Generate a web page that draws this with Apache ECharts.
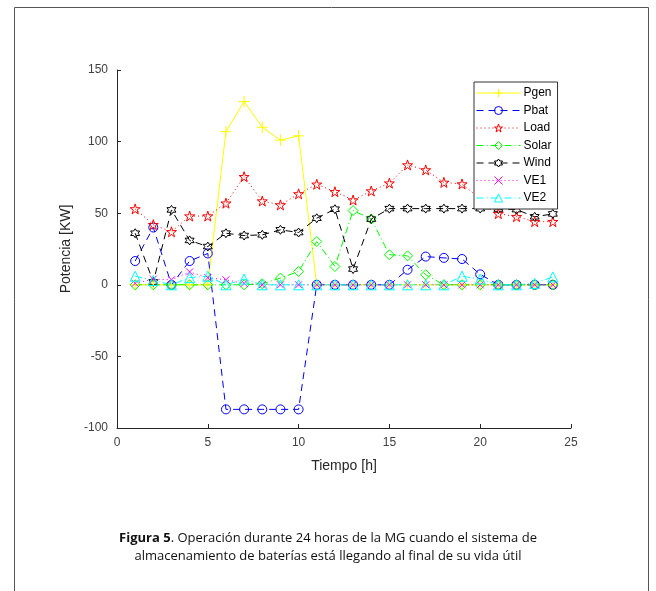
<!DOCTYPE html>
<html>
<head>
<meta charset="utf-8">
<script src="https://cdn.jsdelivr.net/npm/echarts@6/dist/echarts.min.js"></script>
<style>
  html, body { margin: 0; padding: 0; background: #fff; }
  #chart { width: 656px; height: 591px; }
</style>
</head>
<body>
<div id="chart"></div>
<script>
// datos (hora 1..24)
const hours = [1, 2, 3, 4, 5, 6, 7, 8, 9, 10, 11, 12, 13, 14, 15, 16, 17, 18, 19, 20, 21, 22, 23, 24];
const pgen  = [0, 0, 0, 0, 0, 107, 128, 110, 101, 104, 0, 0, 0, 0, 0, 0, 0, 0, 0, 0, 0, 0, 0, 0];
const pbat  = [16.6, 40, 0, 16.6, 21.9, -87, -87, -87, -87, -87, 0, 0, 0, 0, 0, 10.5, 19.7, 18.8, 18, 7.3, 0, 0, 0, 0];
const load  = [53, 42, 37, 48, 48, 57, 75.5, 58.5, 55.8, 63.5, 70.2, 65, 59.2, 65.5, 71, 83.7, 80.2, 71.5, 70.4, 60, 49.7, 47.6, 44.1, 44.1];
const solar = [0, 0, 0, 0, 0, 0, 0, 0.7, 4.7, 9.3, 30.2, 12.8, 51.8, 46, 21, 20.2, 7, 0, 0, 0, 0, 0, 0, 0];
const wind  = [36, 2, 52.3, 31, 26.7, 36, 34.4, 34.9, 38.4, 36.5, 46.5, 52.8, 11, 45.9, 53.2, 53.2, 53.2, 53.2, 53.2, 53.2, 52.9, 52.5, 47.5, 49.5];
const ve1   = [1, 4, 3.5, 9, 5, 3.5, 1, 0, 0, 0, 0, 0, 0, 0, 0, 0, 0, 0, 0, 0, 0, 0, 0, 0];
const ve2   = [6, 3, 0, 5, 6, 0, 4, 0, 0, 0, 0, 0, 0, 0, 0, 0, 0, 0, 6, 4, 0, 0, 1, 5.5];
const xTicks = { min: 0, max: 25, step: 5 };
const yTicks = { min: -100, max: 150, step: 50 };

// marcadores estilo matlab
function starPath(n, ratio) {
  let d = '';
  for (let i = 0; i < n * 2; i++) {
    const r = i % 2 === 0 ? 10 : 10 * ratio;
    const a = -Math.PI / 2 + i * Math.PI / n;
    d += (i === 0 ? 'M' : 'L') + (10 + r * Math.cos(a)).toFixed(2) + ',' + (10 + r * Math.sin(a)).toFixed(2);
  }
  return 'path://' + d + 'Z';
}
const plusSym = 'path://M10,0L10,20M0,10L20,10';
const crossSym = 'path://M0,0L20,20M20,0L0,20';

function pairs(ys) {
  return hours.map((h, i) => [h, ys[i]]);
}

const seriesDef = [
  // nombre, valores, color, trazo, marcador, tamaño
  ['Pgen', pgen, '#ffff00', 'solid', plusSym, 11],
  ['Pbat', pbat, '#0000ff', [7, 5], 'circle', 9],
  ['Load', load, '#ff0000', [1, 3], starPath(5, 0.382), 10],
  ['Solar', solar, '#00ff00', [7, 3, 1, 3], 'diamond', 10],
  ['Wind', wind, '#000000', [7, 5], starPath(6, 0.577), 9],
  ['VE1', ve1, '#ff00ff', [1, 3], crossSym, 7],
  ['VE2', ve2, '#00ffff', [7, 3, 1, 3], 'triangle', 10]
];

const hollow = 'rgba(255,255,255,0)';
const series = seriesDef.map(s => ({
  name: s[0],
  type: 'line',
  data: pairs(s[1]),
  symbol: s[4],
  symbolSize: s[5],
  showSymbol: true,
  color: s[2],
  lineStyle: { color: s[2], width: 1, type: s[3] },
  itemStyle: { color: hollow, borderColor: s[2], borderWidth: 1 },
  emphasis: { disabled: true }
}));

const legendData = seriesDef.map(s => ({
  name: s[0],
  itemStyle: { color: hollow, borderColor: s[2], borderWidth: 1 },
  lineStyle: { color: s[2], width: 1, type: s[3] }
}));

const chart = echarts.init(document.getElementById('chart'), null, { renderer: 'canvas' });

const axisCol = '#262626';
const font = 'Liberation Sans';
const option = {
  animation: false,
  backgroundColor: '#fff',
  textStyle: { fontFamily: font },
  grid: { left: 117, right: 85, top: 70, bottom: 163, containLabel: false },
  xAxis: {
    type: 'value',
    min: xTicks.min, max: xTicks.max, interval: xTicks.step,
    name: 'Tiempo [h]', nameLocation: 'middle', nameGap: 31,
    nameTextStyle: { fontSize: 14, color: axisCol, fontFamily: font },
    axisLine: { show: true, onZero: false, lineStyle: { color: axisCol, width: 1 } },
    axisTick: { show: true, inside: true, length: 4, lineStyle: { color: axisCol } },
    axisLabel: { fontSize: 12, color: '#404040', margin: 9, fontFamily: font },
    splitLine: { show: false }
  },
  yAxis: {
    type: 'value',
    min: yTicks.min, max: yTicks.max, interval: yTicks.step,
    name: 'Potencia [KW]', nameLocation: 'middle', nameGap: 31,
    nameTextStyle: { fontSize: 14, color: axisCol, fontFamily: font },
    axisLine: { show: true, onZero: false, lineStyle: { color: axisCol, width: 1 } },
    axisTick: { show: true, inside: true, length: 4, lineStyle: { color: axisCol } },
    axisLabel: { fontSize: 12, color: '#404040', margin: 9, fontFamily: font },
    splitLine: { show: false }
  },
  legend: {
    orient: 'vertical',
    left: 474, top: 82,
    itemWidth: 44, itemHeight: 10, itemGap: 5.5,
    padding: [5, 6, 5, 2],
    borderColor: '#333', borderWidth: 1,
    backgroundColor: '#fff',
    textStyle: { fontSize: 12, color: '#000', fontFamily: font, padding: [0, 0, 0, -2] },
    data: legendData
  },
  series: series,
  graphic: [
    {
      type: 'rect', left: 12, top: 5, silent: true,
      shape: { width: 634, height: 600 },
      style: { fill: 'none', stroke: '#555', lineWidth: 1 }
    },
    {
      type: 'text', left: 'center', top: 532,
      style: {
        text: '{b|Figura 5}. Operación durante 24 horas de la MG cuando el sistema de',
        font: '13px "Open Sans", "Noto Sans", sans-serif',
        fill: '#111',
        rich: { b: { fontWeight: 'bold', fontSize: 13, fontFamily: 'Open Sans' } }
      }
    },
    {
      type: 'text', left: 'center', top: 550,
      style: {
        text: 'almacenamiento de baterías está llegando al final de su vida útil',
        font: '13px "Open Sans", "Noto Sans", sans-serif',
        fill: '#111'
      }
    }
  ]
};
chart.setOption(option);
</script>
</body>
</html>
